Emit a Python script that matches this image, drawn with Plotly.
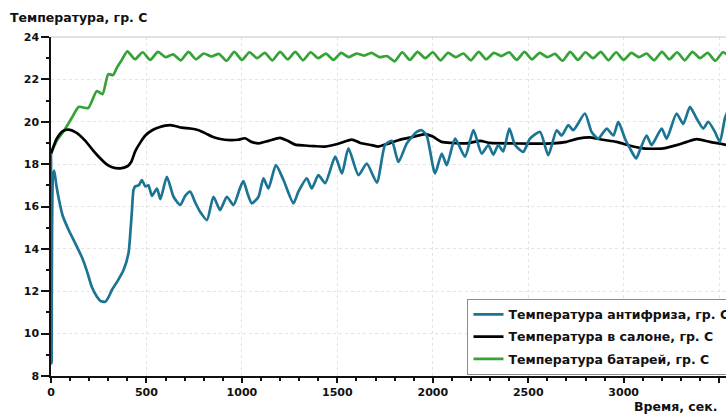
import plotly.graph_objects as go

# ---- data ----
t_blue = [0, 3, 10, 17, 28, 40, 60, 92, 125, 162, 190, 214, 240, 258, 284, 300, 319, 350, 380, 406, 416,
          424, 432, 441, 460, 476, 494, 510, 529, 555, 573, 607, 642, 677, 703, 729, 755, 781, 817, 851,
          886, 921, 956, 991, 1008, 1030, 1052, 1087, 1113, 1139, 1178, 1218, 1270, 1296, 1340, 1366,
          1401, 1436, 1489, 1524, 1558, 1611, 1654, 1707, 1750, 1785, 1820, 1864, 1916, 1942, 1968,
          2012, 2047, 2073, 2117, 2169, 2213, 2256, 2291, 2317, 2343, 2369, 2401, 2431, 2474, 2509,
          2562, 2605, 2649, 2675, 2710, 2736, 2797, 2832, 2867, 2911, 2946, 2972, 3007, 3033, 3065,
          3085, 3120, 3146, 3199, 3225, 3277, 3312, 3347, 3382, 3417, 3443, 3478, 3504, 3530, 3545]
v_blue = [18.5, 8.6, 17.4, 17.7, 17.0, 16.4, 15.6, 14.9, 14.3, 13.6, 12.9, 12.2, 11.75, 11.55, 11.5, 11.7,
          12.06, 12.5, 13.0, 13.8, 14.8, 15.8, 16.77, 16.95, 17.0, 17.25, 16.95, 17.0, 16.5, 16.85,
          16.35, 17.4, 16.46, 16.07, 16.5, 16.7, 16.2, 15.75, 15.36, 16.46, 15.83, 16.46, 16.07, 16.9,
          17.2, 16.6, 16.15, 16.46, 17.33, 16.85, 17.95, 17.25, 16.15, 16.7, 17.33, 16.85, 17.48, 17.1,
          18.35, 17.56, 18.74, 17.48, 18.03, 17.13, 18.9, 19.1, 18.1, 18.98, 19.52, 19.6, 19.35, 17.56,
          18.5, 17.95, 19.2, 18.35, 19.6, 18.5, 18.9, 18.45, 18.9, 18.6, 19.68, 18.9, 18.58, 19.2, 19.52,
          18.42, 19.6, 19.35, 19.84, 19.6, 20.39, 19.52, 19.2, 19.68, 19.35, 20.0, 19.2, 18.74, 18.27,
          18.66, 19.35, 18.9, 19.68, 19.2, 20.39, 19.9, 20.7, 20.15, 19.68, 20.0, 19.52, 19.05, 20.15, 20.5]

t_black = [0, 30, 60, 92, 130, 180, 220, 250, 290, 320, 363, 400, 420, 441, 470, 494, 530, 563, 625, 686,
           730, 773, 810, 843, 880, 939, 980, 1017, 1050, 1087, 1140, 1200, 1240, 1279, 1330, 1380, 1436,
           1500, 1576, 1620, 1680, 1715, 1760, 1820, 1880, 1960, 2000, 2047, 2100, 2180, 2248, 2300, 2400,
           2500, 2630, 2700, 2760, 2824, 2890, 2963, 3030, 3103, 3207, 3278, 3330, 3382, 3452, 3545]
v_black = [18.5, 19.2, 19.55, 19.63, 19.5, 19.1, 18.65, 18.35, 18.0, 17.85, 17.8, 17.9, 18.1, 18.6, 19.05,
           19.35, 19.6, 19.73, 19.84, 19.72, 19.68, 19.6, 19.45, 19.3, 19.2, 19.13, 19.15, 19.22, 19.05,
           18.98, 19.1, 19.24, 19.1, 18.92, 18.88, 18.85, 18.83, 18.95, 19.16, 19.0, 18.9, 18.83, 18.95,
           19.13, 19.25, 19.42, 19.3, 19.05, 19.0, 18.98, 19.1, 19.0, 18.98, 18.97, 18.98, 19.05, 19.2,
           19.26, 19.15, 19.05, 18.88, 18.74, 18.74, 18.9, 19.05, 19.18, 19.05, 18.9]

t_green = [0, 30, 70, 110, 145, 195, 240, 270, 300, 325, 345, 370,
           400, 440, 480, 520, 560, 600, 640, 680, 720, 760, 800, 840, 880, 920, 960, 1000, 1040, 1080,
           1120, 1160, 1200, 1240, 1280, 1320, 1360, 1400, 1440, 1480, 1520, 1560, 1600, 1640, 1680,
           1720, 1760, 1800, 1840, 1880, 1920, 1960, 2000, 2040, 2080, 2120, 2160, 2200, 2240, 2280,
           2320, 2360, 2400, 2440, 2480, 2520, 2560, 2600, 2640, 2680, 2720, 2760, 2800, 2840, 2880,
           2920, 2960, 3000, 3040, 3080, 3120, 3160, 3200, 3240, 3280, 3320, 3360, 3400, 3440, 3480,
           3520, 3545]
v_green = [18.5, 19.1, 19.6, 20.2, 20.7, 20.65, 21.45, 21.3, 22.25, 22.2, 22.55, 22.9,
           23.32, 22.95, 23.28, 22.92, 23.3, 23.05, 23.18, 22.9, 23.3, 22.95, 23.22, 23.08, 23.2, 22.88,
           23.3, 22.92, 23.28, 23.0, 23.25, 22.9, 23.3, 22.95, 23.3, 22.9, 23.28, 23.0, 23.22, 22.92,
           23.25, 23.05, 23.22, 23.12, 23.25, 23.05, 23.1, 22.85, 23.28, 22.92, 23.3, 23.0, 23.28, 22.9,
           23.25, 23.05, 23.22, 22.9, 23.3, 22.95, 23.25, 23.1, 23.28, 22.92, 23.3, 22.95, 23.25, 23.05,
           23.2, 22.88, 23.3, 22.92, 23.28, 23.0, 23.3, 22.9, 23.28, 22.92, 23.25, 23.05, 23.22, 22.9,
           23.3, 22.95, 23.28, 22.9, 23.3, 23.0, 23.25, 22.88, 23.28, 23.15]

names = ["Температура антифриза, гр. С", "Температура в салоне, гр. С", "Температура батарей, гр. С"]
colors = ["#1b7494", "#000000", "#35a336"]

FONT = "DejaVu Sans"

fig = go.Figure()
series = [(t_blue, v_blue), (t_black, v_black), (t_green, v_green)]
order = [2, 1, 0]  # draw green first, blue last (on top)
for i in order:
    x, y = series[i]
    fig.add_trace(go.Scatter(
        x=x, y=y, mode="lines", name=names[i], legendgroup=str(i), legendrank=i + 1,
        line=dict(color=colors[i], width=2.7, shape="spline", smoothing=0.6),
    ))

fig.update_layout(
    width=726, height=415,
    margin=dict(l=51, r=0, t=37, b=39, autoexpand=False),
    paper_bgcolor="white", plot_bgcolor="white",
    font=dict(family=FONT, size=12, color="#111"),
    showlegend=True,
    legend=dict(
        x=0.617, y=0.228, xanchor="left", yanchor="top",
        bgcolor="white", bordercolor="#8c8c8c", borderwidth=1,
        font=dict(family=FONT, size=12.5, color="#111", weight="bold"),
        tracegroupgap=3, traceorder="grouped",
    ),
    annotations=[
        dict(text="<b>Температура, гр. С</b>", xref="paper", yref="paper", x=-43 / 675, y=1,
             xanchor="left", yanchor="bottom", yshift=10, showarrow=False,
             font=dict(family=FONT, size=12.5, color="#111")),
        dict(text="<b>Время, сек.</b>", xref="paper", yref="paper", x=0.99, y=0,
             xanchor="right", yanchor="top", yshift=-21, showarrow=False,
             font=dict(family=FONT, size=12.5, color="#111")),
    ],
    shapes=[dict(type="line", xref="paper", yref="paper", x0=0, x1=1, y0=1, y1=1,
                 line=dict(color="#d9d9d9", width=1.5))],
)

fig.update_xaxes(
    range=[0, 3536], tickmode="linear", tick0=0, dtick=500,
    showline=True, linecolor="#111", linewidth=1.5,
    ticks="outside", ticklen=5, tickcolor="#111", tickwidth=1.5,
    tickfont=dict(family=FONT, size=11, color="#111", weight="bold"),
    showgrid=True, gridcolor="#e3e3e3", griddash="dot", gridwidth=1,
    minor=dict(dtick=100, ticks="outside", ticklen=3, tickcolor="#111", showgrid=False),
    zeroline=False, fixedrange=True,
)
fig.update_yaxes(
    range=[8, 24], tickmode="linear", tick0=8, dtick=2,
    showline=True, linecolor="#111", linewidth=1.5,
    ticks="outside", ticklen=8, tickcolor="#111", tickwidth=1.5,
    tickfont=dict(family=FONT, size=11, color="#111", weight="bold"),
    showgrid=True, gridcolor="#e3e3e3", griddash="dot", gridwidth=1,
    minor=dict(dtick=1, ticks="outside", ticklen=3, tickcolor="#111", showgrid=False),
    zeroline=False, fixedrange=True,
)

fig.write_html("out.html", config={"displayModeBar": False})
